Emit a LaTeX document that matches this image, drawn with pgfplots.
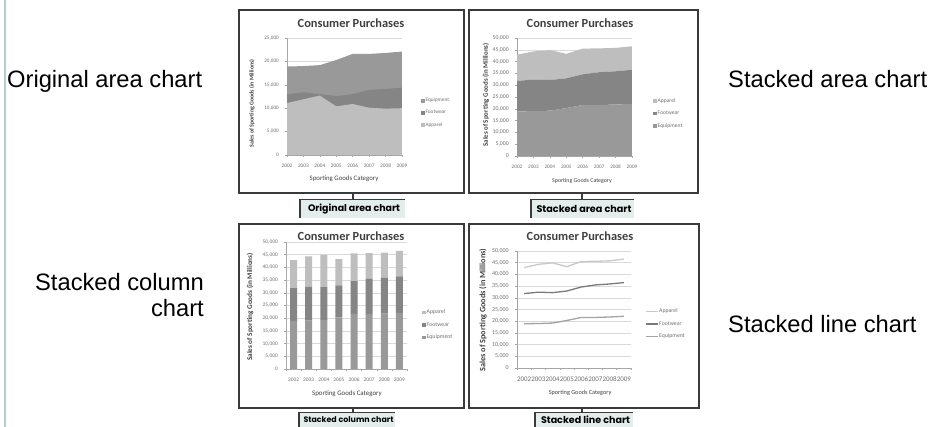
\documentclass[border=0pt]{standalone}
\usepackage{graphicx}
\usepackage{pgfplots}
\pgfplotsset{compat=1.18}
\usepackage{pgfplotstable}
\usepackage{fontspec}
\setmainfont{Carlito}
\newfontfamily\sidefont{Liberation Sans}
\newfontfamily\tagfont{Poppins}

\definecolor{appC}{HTML}{BEBEBE}
\definecolor{footC}{HTML}{858585}
\definecolor{equipC}{HTML}{999999}
\definecolor{lineApp}{HTML}{C9C9C9}
\definecolor{lineFoot}{HTML}{7A7A7A}
\definecolor{lineEquip}{HTML}{A3A3A3}
\definecolor{gridC}{HTML}{D9D9D9}
\definecolor{axC}{HTML}{A6A6A6}
\definecolor{tickC}{HTML}{707070}
\definecolor{titleC}{HTML}{404040}
\definecolor{frameC}{HTML}{3A3A3A}
\definecolor{tagFill}{HTML}{E3EDEB}
\definecolor{sideRule}{HTML}{B9CCCC}

\newcommand\fs[1]{\fontsize{#1}{#1}\selectfont}

% Sporting goods sales (in millions) by year
\pgfplotstableread{
x year equip foot app
0 2002 18900 12900 11100
1 2003 19000 13400 11900
2 2004 19200 13000 12700
3 2005 20300 12600 10400
4 2006 21600 13000 10900
5 2007 21600 13900 10100
6 2008 21800 14100  9900
7 2009 22100 14400 10000
}\sales

\pgfplotsset{
  consumer/.style={
    scale only axis,
    anchor=south west,
    axis x line*=bottom,
    axis y line*=left,
    axis line style={draw=axC, line width=0.5pt},
    every tick/.style={draw=axC, line width=0.5pt},
    major tick length=2.2pt,
    tick align=outside,
    ymin=0,
    ymajorgrids,
    major grid style={draw=gridC, line width=0.5pt},
    scaled y ticks=false,
    /pgf/number format/1000 sep={,},
    /pgf/number format/assume math mode=true,
    yticklabel style={text=tickC, xshift=-2.5pt},
    xticklabel style={text=tickC, yshift=-3pt},
    xlabel style={text=titleC, anchor=center},
    ylabel style={text=titleC, anchor=center},
    legend cell align=left,
    legend style={draw=none, fill=none, anchor=west, text=tickC,
      row sep=5.5pt, nodes={inner sep=0.8pt}},
    clip=false,
  },
  sq/.style={legend image code/.code={\fill[##1] (0pt,-1.8pt) rectangle (3.6pt,1.8pt);}},
  ln/.style={legend image code/.code={\draw[##1] (0pt,0pt) -- (12pt,0pt);}},
}

\begin{document}
\begin{tikzpicture}[x=1pt,y=1pt]
\useasboundingbox (0,0) rectangle (932,427);
\fill[white] (0,0) rectangle (932,427);
\draw[sideRule, line width=1.6pt] (5,0) -- (5,427);

% chart frames
\foreach \a/\b/\c/\d in {239/417/464/234, 469/417/698/234, 239/203/464/19, 469/203/699/19}
  \draw[frameC, line width=1.8pt] (\a,\b) rectangle (\c,\d);

% connectors and caption tags
\foreach \sx/\top/\tl/\tr/\tt/\tb/\ty/\tw/\txt in {
   353/234/299/405/227/209/218/92/Original area chart,
   582/234/530/634/227/209/218/95/Stacked area chart,
   353/19/298/395/14/-4/7.5/90/Stacked column chart,
   582/19/534/633/14/-4/7.5/89/Stacked line chart}{
  \draw[frameC, line width=1.5pt] (\sx,\top) -- (\sx,\tt);
  \fill[tagFill] (\tl,\tb) rectangle (\tr,\tt);
  \draw[frameC, line width=1pt] (\tl,\tt) -- (\tr,\tt);
  \draw[frameC, line width=2pt] (\tl+1,\tt) -- (\tl+1,\tb);
  \node[text=black, anchor=center, inner sep=0]
    at ({(\tl+\tr)/2+2},\ty) {\resizebox{\tw pt}{!}{\tagfont\bfseries\fs{9.4}\txt}};
}

% side descriptions
\node[font=\sidefont\fs{23.7}, anchor=base west, inner sep=0] at (7,339) {Original area chart};
\node[font=\sidefont\fs{23.7}, anchor=base west, inner sep=0] at (728,339) {Stacked area chart};
\node[font=\sidefont\fs{23.7}, anchor=base east, inner sep=0] at (204,136) {Stacked column};
\node[font=\sidefont\fs{23.7}, anchor=base east, inner sep=0] at (204,110) {chart};
\node[font=\sidefont\fs{23.7}, anchor=base west, inner sep=0] at (728,94) {Stacked line chart};

% chart titles
\foreach \tx/\ty in {351/404, 580/404, 351/191, 580/191}
  \node[font=\bfseries\fs{12.4}, text=titleC] at (\tx,\ty) {Consumer Purchases};

% --- original (overlapping) area chart
\begin{axis}[consumer, at={(287pt,272pt)}, width=115pt, height=117pt,
  xmin=0, xmax=7, ymax=25000, ytick={0,5000,...,25000},
  xtick={0,...,7}, xticklabels from table={\sales}{year},
  yticklabel style={font=\fs{5.2}}, xticklabel style={font=\fs{5.3}},
  xlabel={Sporting Goods Category}, xlabel style={font=\fs{6.8}, at={(axis description cs:0.496,-0.205)}},
  ylabel={\bfseries Sales of Sporting Goods (in Millions)},
  ylabel style={font=\fs{5.9}, at={(axis description cs:-0.304,0.44)}},
  legend style={font=\fs{5.3}, at={(axis description cs:1.139,0.36)}},
]
\addplot[fill=equipC, draw=none, sq] table[x=x, y=equip] {\sales} \closedcycle;
\addplot[fill=footC, draw=none, sq] table[x=x, y=foot] {\sales} \closedcycle;
\addplot[fill=appC, draw=none, sq] table[x=x, y=app] {\sales} \closedcycle;
\legend{Equipment, Footwear, Apparel}
\end{axis}

% --- stacked area chart
\begin{axis}[consumer, at={(517pt,271pt)}, width=115pt, height=118pt,
  stack plots=y,
  xmin=0, xmax=7, ymax=50000, ytick={0,5000,...,50000},
  xtick={0,...,7}, xticklabels from table={\sales}{year},
  yticklabel style={font=\fs{5.8}}, xticklabel style={font=\fs{5.2}},
  xlabel={Sporting Goods Category}, xlabel style={font=\fs{5.9}, at={(axis description cs:0.565,-0.212)}},
  ylabel={\bfseries Sales of Sporting Goods (in Millions)},
  ylabel style={font=\fs{6.9}, at={(axis description cs:-0.27,0.517)}},
  legend style={font=\fs{5.6}, at={(axis description cs:1.157,0.36)}},
  reverse legend,
]
\addplot[fill=equipC, draw=none, sq] table[x=x, y=equip] {\sales} \closedcycle;
\addplot[fill=footC, draw=none, sq] table[x=x, y=foot] {\sales} \closedcycle;
\addplot[fill=appC, draw=none, sq] table[x=x, y=app] {\sales} \closedcycle;
\legend{Equipment, Footwear, Apparel}
\end{axis}

% --- stacked column chart
\begin{axis}[consumer, at={(286pt,58pt)}, width=121pt, height=127pt,
  ybar stacked, bar width=7pt,
  xmin=-0.5, xmax=7.5, ymax=50000, ytick={0,5000,...,50000},
  xtick={-0.5,0.5,...,7.5}, x tick label as interval,
  xticklabels={2002,2003,2004,2005,2006,2007,2008,2009},
  yticklabel style={font=\fs{5.4}}, xticklabel style={font=\fs{5.4}},
  xlabel={Sporting Goods Category}, xlabel style={font=\fs{6.9}, at={(axis description cs:0.504,-0.197)}},
  ylabel={\bfseries Sales of Sporting Goods (in Millions)},
  ylabel style={font=\fs{7.2}, at={(axis description cs:-0.298,0.488)}},
  legend style={font=\fs{5.8}, at={(axis description cs:1.10,0.346)}},
  reverse legend,
]
\addplot[fill=equipC, draw=none, sq] table[x=x, y=equip] {\sales};
\addplot[fill=footC, draw=none, sq] table[x=x, y=foot] {\sales};
\addplot[fill=appC, draw=none, sq] table[x=x, y=app] {\sales};
\legend{Equipment, Footwear, Apparel}
\end{axis}

% --- stacked line chart
\begin{axis}[consumer, at={(517pt,59pt)}, width=114pt, height=117pt,
  stack plots=y,
  xmin=-0.5, xmax=7.5, ymax=50000, ytick={0,5000,...,50000},
  xtick={-0.5,0.5,...,7.5}, x tick label as interval,
  xticklabels={2002,2003,2004,2005,2006,2007,2008,2009},
  yticklabel style={font=\fs{6}}, xticklabel style={font=\fs{7}},
  xlabel={Sporting Goods Category}, xlabel style={font=\fs{6.2}, at={(axis description cs:0.553,-0.214)}},
  ylabel={\bfseries Sales of Sporting Goods (in Millions)},
  ylabel style={font=\fs{8.2}, at={(axis description cs:-0.298,0.496)}},
  legend style={font=\fs{5.8}, at={(axis description cs:1.096,0.376)}},
  reverse legend,
]
\addplot[draw=lineEquip, line width=1.3pt, no marks, ln] table[x=x, y=equip] {\sales};
\addplot[draw=lineFoot, line width=1.3pt, no marks, ln] table[x=x, y=foot] {\sales};
\addplot[draw=lineApp, line width=1.3pt, no marks, ln] table[x=x, y=app] {\sales};
\legend{Equipment, Footwear, Apparel}
\end{axis}
\end{tikzpicture}
\end{document}
